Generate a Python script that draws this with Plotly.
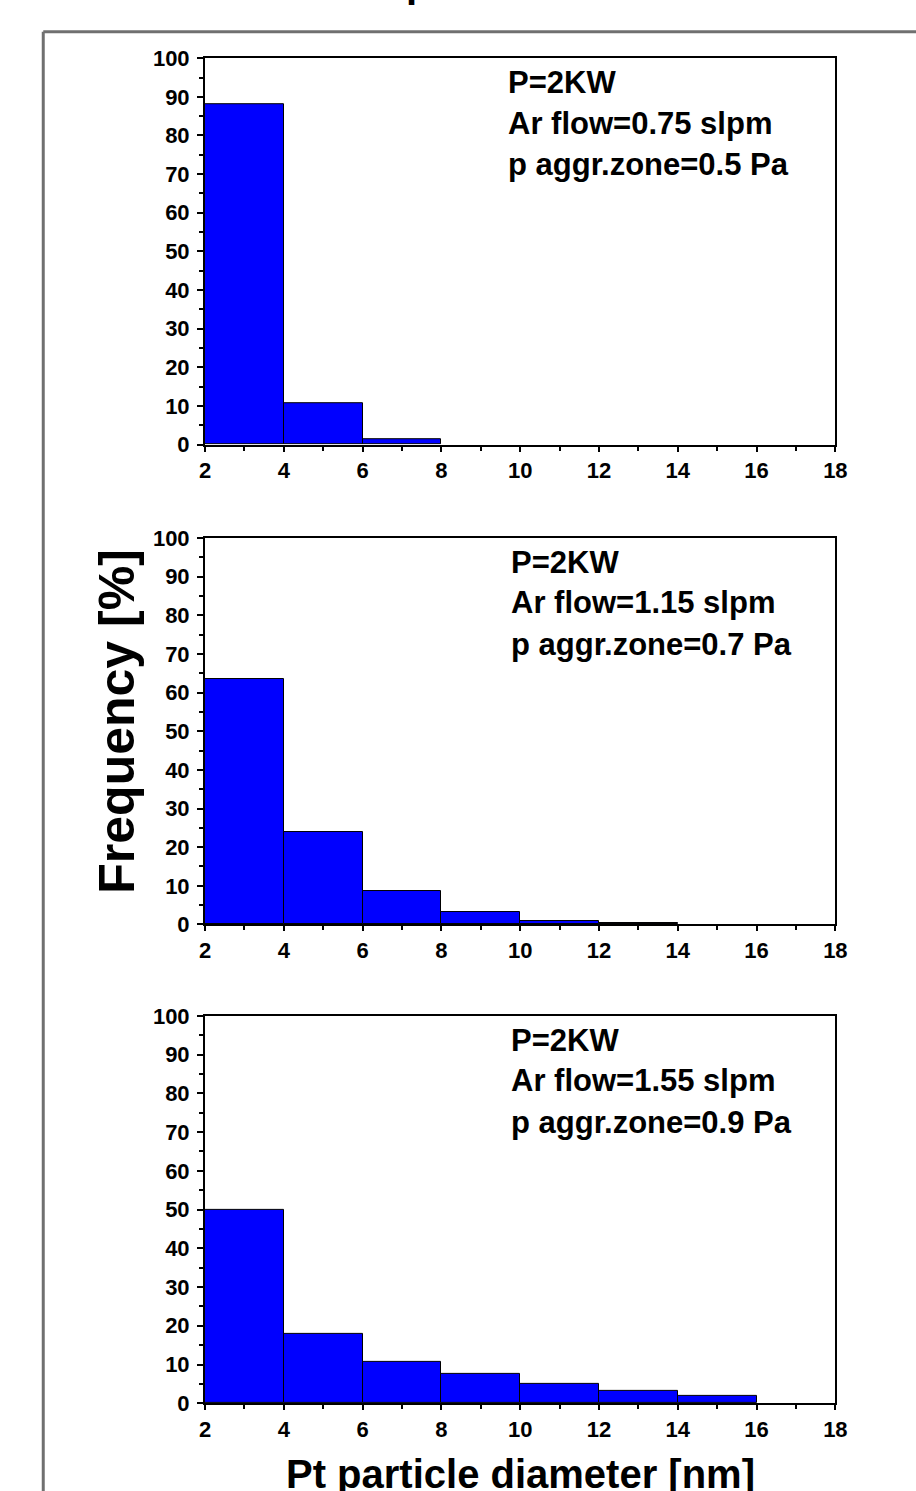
import plotly.graph_objects as go

# ---- data ----
bin_edges_left = [2, 4, 6, 8, 10, 12, 14]
bin_width = 2
freq_075 = [88.0, 10.7, 1.3]
freq_115 = [63.5, 23.8, 8.7, 3.3, 0.8, 0.3]
freq_155 = [49.8, 18.0, 10.7, 7.7, 5.0, 3.3, 2.0]

labels_075 = ["P=2KW", "Ar flow=0.75 slpm", "p aggr.zone=0.5 Pa"]
labels_115 = ["P=2KW", "Ar flow=1.15 slpm", "p aggr.zone=0.7 Pa"]
labels_155 = ["P=2KW", "Ar flow=1.55 slpm", "p aggr.zone=0.9 Pa"]

x_ticks = [2, 4, 6, 8, 10, 12, 14, 16, 18]
y_ticks = [0, 10, 20, 30, 40, 50, 60, 70, 80, 90, 100]

W, H = 916, 1491


def px(x):
    return x / W


def py(y):
    return 1 - y / H


FONT = "Liberation Sans, Arial, sans-serif"
BLUE = "#0000FF"

panels = [
    (freq_075, labels_075, (47, 440), 510),
    (freq_115, labels_115, (535, 928), 513),
    (freq_155, labels_155, (1021, 1415), 513),
]

fig = go.Figure()
layout = dict(
    width=W, height=H,
    margin=dict(l=0, r=0, t=0, b=0),
    paper_bgcolor="white", plot_bgcolor="white",
    showlegend=False, bargap=0,
)

x_left, x_right = 203, 846
xdom = [px(x_left), px(x_right)]
annotations = []
for i, (vals, labels, (ytop, ybot), tx) in enumerate(panels):
    n = "" if i == 0 else str(i + 1)
    centers = [e + bin_width / 2 for e in bin_edges_left[:len(vals)]]
    fig.add_trace(go.Bar(
        x=centers, y=vals, width=[bin_width] * len(vals),
        marker=dict(color=BLUE, line=dict(color="black", width=1)),
        xaxis="x" + n, yaxis="y" + n, hoverinfo="x+y",
    ))
    axis_common = dict(
        showline=True, linecolor="black", linewidth=2, mirror=True,
        ticks="outside", ticklen=6, tickwidth=1.5, tickcolor="black",
        showgrid=False, zeroline=False,
        tickfont=dict(family=FONT, size=22, color="black", weight="bold"),
    )
    layout["xaxis" + n] = dict(
        axis_common, domain=xdom, range=[2, 18], anchor="y" + n,
        tickvals=x_ticks, ticklen=5,
        minor=dict(ticks="outside", ticklen=4, tickwidth=1.5, tickcolor="black", dtick=1, tick0=0),
    )
    layout["yaxis" + n] = dict(
        axis_common, domain=[py(ybot), py(ytop)], range=[0, 100], anchor="x" + n,
        tickvals=y_ticks, ticklabelstandoff=3,
        minor=dict(ticks="outside", ticklen=4, tickwidth=1.5, tickcolor="black", dtick=5, tick0=0),
    )
    for txt, off in zip(labels, [25, 66, 108]):
        annotations.append(dict(
            text=txt, xref="paper", yref="paper",
            x=px(tx), y=py(ytop + off),
            xanchor="left", yanchor="middle", showarrow=False,
            font=dict(family=FONT, size=31, color="black", weight="bold"),
        ))

annotations.append(dict(
    text="Frequency [%]", xref="paper", yref="paper",
    x=px(113), y=py(721), textangle=-90, showarrow=False,
    xanchor="center", yanchor="middle",
    font=dict(family=FONT, size=50, color="black", weight="bold"),
))
annotations.append(dict(
    text="Pt particle diameter [nm]", xref="paper", yref="paper",
    x=px(525), y=py(1487), showarrow=False,
    xanchor="center", yanchor="middle",
    font=dict(family=FONT, size=40, color="black", weight="bold"),
))
annotations.append(dict(
    text="p", xref="paper", yref="paper",
    x=px(406), y=py(-29), showarrow=False,
    xanchor="left", yanchor="middle",
    font=dict(family=FONT, size=40, color="black", weight="bold"),
))
layout["annotations"] = annotations

frame_color = "#707070"
layout["shapes"] = [
    dict(type="line", xref="paper", yref="paper", x0=px(38), x1=1.05, y0=py(20), y1=py(20),
         line=dict(color=frame_color, width=3)),
    dict(type="line", xref="paper", yref="paper", x0=px(38), x1=px(38), y0=-0.05, y1=py(20),
         line=dict(color=frame_color, width=3)),
]

fig.update_layout(**layout)
fig.write_html(
    "out.html",
    config={"displayModeBar": False},
    post_script="document.body.style.margin='0';document.body.style.overflow='hidden';",
)
